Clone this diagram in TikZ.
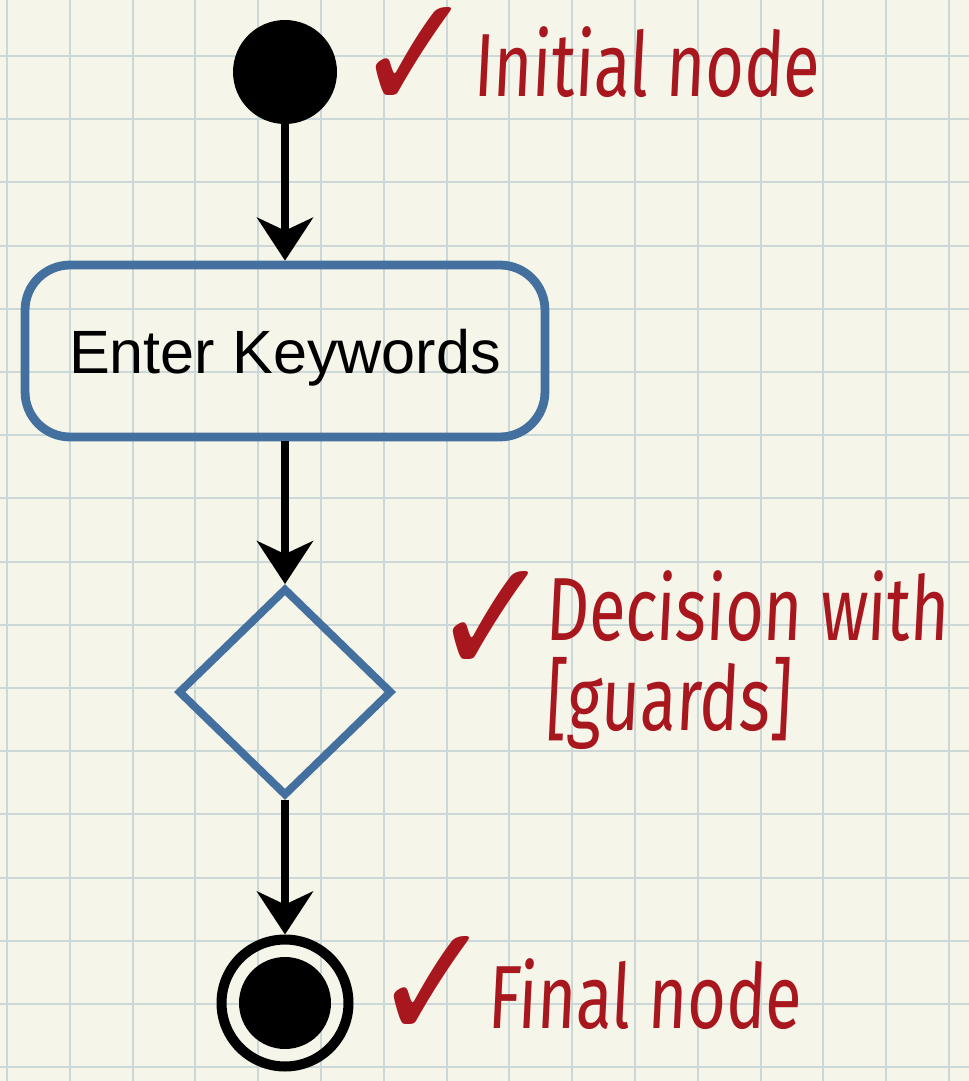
\documentclass[tikz,border=0pt]{standalone}
\usepackage{fontspec}
\setsansfont{Liberation Sans}
\newfontfamily\handfont[FakeSlant=0.05,FakeStretch=0.74]{Fira Sans}
\newfontfamily\tickfont[FakeStretch=0.88]{DejaVu Sans}
\usetikzlibrary{arrows.meta,shapes.geometric,positioning}
\definecolor{paper}{HTML}{F5F5E9}
\definecolor{gridblue}{HTML}{CCD8D8}
\definecolor{boxblue}{HTML}{44709F}
\definecolor{penred}{HTML}{A8161E}

\begin{document}
\begin{tikzpicture}[x=0.02cm, y=-0.02cm,
    flow/.style={line width=4pt,
      -{Stealth[length=0.86cm, width=1.12cm, inset=0.26cm]}},
    note/.style={anchor=base west, inner sep=0pt, text=penred,
      font=\handfont\fontsize{51}{51}\selectfont},
    tick/.style={anchor=base west, inner sep=0pt, text=penred,
      font=\tickfont\fontsize{94}{94}\selectfont}]

    % squared paper
    \useasboundingbox (0,0) rectangle (969,1081);
    \fill[paper] (0,0) rectangle (969,1081);
    \foreach \gx in {0,...,15}
      \draw[gridblue, line width=1.2pt] ({7+62.8*\gx},0) -- ({7+62.8*\gx},1081);
    \foreach \gy in {0,...,16}
      \draw[gridblue, line width=1.2pt] (0,{56+63.2*\gy}) -- (969,{56+63.2*\gy});

    \node[circle, fill=black,
      minimum size=2.08cm,
      inner sep=0pt, outer sep=0pt] (init) at (285,72) {};

    \node[rectangle, draw=boxblue, line width=5pt,
      rounded corners=0.9cm,
      minimum width=10.4cm,
      minimum height=3.44cm,
      text depth=0pt,
      font=\sffamily\fontsize{34.8}{40}\selectfont] (enter) at (285,351) {Enter Keywords};

    \node[diamond, draw=boxblue, line width=4.5pt,
      minimum width=4.28cm,
      minimum height=4.16cm,
      inner sep=0pt] (dec) at (285,692) {};

    \node[circle, draw=black, line width=5.7pt,
      minimum size=2.54cm,
      inner sep=0pt] (final) at (285,1003) {};
    \node[circle, fill=black,
      minimum size=1.84cm,
      inner sep=0pt] (finaldot) at (final.center) {};

    \draw[flow] (init) -- (enter);
    \draw[flow] (enter) -- (dec);
    \draw[flow] (dec) -- (final);

    % notes
    \node[tick] (tick1) at (354,112) {✓};
    \node[note] (lbl1) at (473,97) {Initial node};

    \node[tick] (tick2) at (431,675) {✓};
    \node[note, align=left] (lbl2) at (545,730) {Decision with\\{}[guards]};

    \node[tick] (tick3) at (372,1040) {✓};
    \node[note] (lbl3) at (487,1028) {Final node};
\end{tikzpicture}
\end{document}
